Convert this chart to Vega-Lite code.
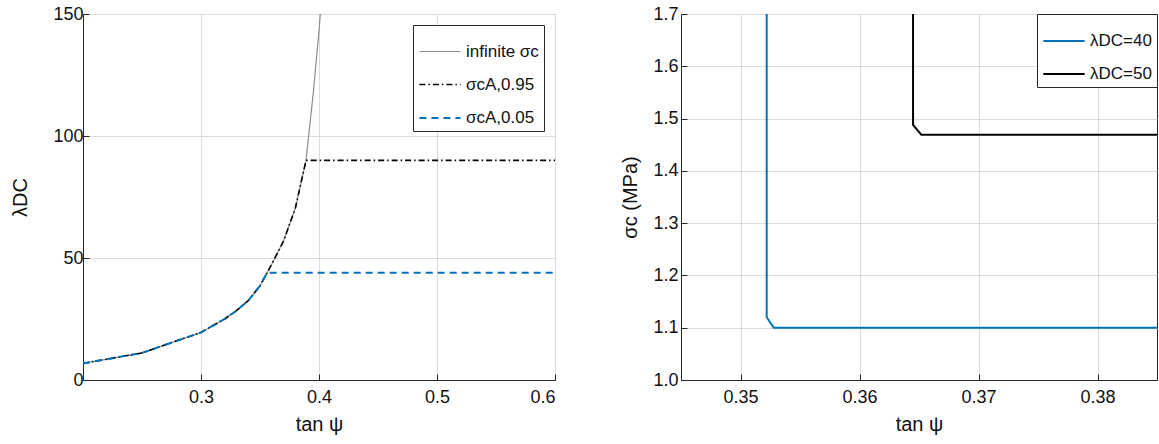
{
  "$schema": "https://vega.github.io/schema/vega-lite/v6.json",
  "padding": {"left": 10, "top": 4, "right": 0, "bottom": 0},
  "spacing": 64,
  "config": {
    "font": "Liberation Sans",
    "view": {"stroke": "#262626", "strokeWidth": 1},
    "axis": {
      "domainColor": "#262626", "tickColor": "#262626", "tickSize": -6,
      "gridColor": "#dcdcdc", "labelFontSize": 18, "labelColor": "#111",
      "titleFontSize": 20, "titleFontWeight": "normal", "titleColor": "#111",
      "labelPadding": 6
    },
    "axisX": {"labelPadding": 14, "titlePadding": 8},
    "legend": {
      "strokeColor": "#262626", "fillColor": "white", "padding": 5,
      "labelFontSize": 17, "labelColor": "#111", "symbolType": "stroke",
      "symbolSize": 1700, "symbolStrokeWidth": 2, "rowPadding": 3
    }
  },
  "datasets": {
    "left": [
      {"s": "infinite σc", "t": 0.20, "lam": 6.8, "i": 1},
      {"s": "infinite σc", "t": 0.25, "lam": 11.1, "i": 2},
      {"s": "infinite σc", "t": 0.30, "lam": 19.5, "i": 3},
      {"s": "infinite σc", "t": 0.32, "lam": 25.0, "i": 4},
      {"s": "infinite σc", "t": 0.33, "lam": 28.4, "i": 5},
      {"s": "infinite σc", "t": 0.34, "lam": 32.5, "i": 6},
      {"s": "infinite σc", "t": 0.35, "lam": 38.6, "i": 7},
      {"s": "infinite σc", "t": 0.36, "lam": 47.5, "i": 8},
      {"s": "infinite σc", "t": 0.37, "lam": 57.0, "i": 9},
      {"s": "infinite σc", "t": 0.38, "lam": 70.5, "i": 10},
      {"s": "infinite σc", "t": 0.389, "lam": 90.0, "i": 11},
      {"s": "infinite σc", "t": 0.395, "lam": 117.0, "i": 12},
      {"s": "infinite σc", "t": 0.40, "lam": 143.0, "i": 13},
      {"s": "infinite σc", "t": 0.405, "lam": 175.0, "i": 14},
      {"s": "σcA,0.95", "t": 0.20, "lam": 6.8, "i": 1},
      {"s": "σcA,0.95", "t": 0.25, "lam": 11.1, "i": 2},
      {"s": "σcA,0.95", "t": 0.30, "lam": 19.5, "i": 3},
      {"s": "σcA,0.95", "t": 0.32, "lam": 25.0, "i": 4},
      {"s": "σcA,0.95", "t": 0.33, "lam": 28.4, "i": 5},
      {"s": "σcA,0.95", "t": 0.34, "lam": 32.5, "i": 6},
      {"s": "σcA,0.95", "t": 0.35, "lam": 38.6, "i": 7},
      {"s": "σcA,0.95", "t": 0.36, "lam": 47.5, "i": 8},
      {"s": "σcA,0.95", "t": 0.37, "lam": 57.0, "i": 9},
      {"s": "σcA,0.95", "t": 0.38, "lam": 70.5, "i": 10},
      {"s": "σcA,0.95", "t": 0.389, "lam": 90.0, "i": 11},
      {"s": "σcA,0.95", "t": 0.60, "lam": 90.0, "i": 12},
      {"s": "σcA,0.05", "t": 0.20, "lam": 6.8, "i": 1},
      {"s": "σcA,0.05", "t": 0.25, "lam": 11.1, "i": 2},
      {"s": "σcA,0.05", "t": 0.30, "lam": 19.5, "i": 3},
      {"s": "σcA,0.05", "t": 0.32, "lam": 25.0, "i": 4},
      {"s": "σcA,0.05", "t": 0.33, "lam": 28.4, "i": 5},
      {"s": "σcA,0.05", "t": 0.34, "lam": 32.5, "i": 6},
      {"s": "σcA,0.05", "t": 0.35, "lam": 38.6, "i": 7},
      {"s": "σcA,0.05", "t": 0.356, "lam": 44.0, "i": 8},
      {"s": "σcA,0.05", "t": 0.60, "lam": 44.0, "i": 9}
    ],
    "right": [
      {"s": "λDC=40", "t": 0.3522, "sig": 1.75, "i": 1},
      {"s": "λDC=40", "t": 0.3522, "sig": 1.12, "i": 2},
      {"s": "λDC=40", "t": 0.3528, "sig": 1.10, "i": 3},
      {"s": "λDC=40", "t": 0.385, "sig": 1.10, "i": 4},
      {"s": "λDC=50", "t": 0.3645, "sig": 1.75, "i": 1},
      {"s": "λDC=50", "t": 0.3645, "sig": 1.488, "i": 2},
      {"s": "λDC=50", "t": 0.3652, "sig": 1.469, "i": 3},
      {"s": "λDC=50", "t": 0.385, "sig": 1.469, "i": 4}
    ]
  },
  "resolve": {"scale": {"color": "independent", "strokeDash": "independent", "strokeWidth": "independent"}, "legend": {"color": "independent"}},
  "hconcat": [
    {
      "width": 472, "height": 366,
      "data": {"name": "left"},
      "mark": {"type": "line", "clip": true},
      "encoding": {
        "x": {"field": "t", "type": "quantitative", "scale": {"domain": [0.2, 0.6], "nice": false, "zero": false},
              "axis": {"values": [0.2, 0.3, 0.4, 0.5, 0.6], "labelExpr": "datum.value == 0.2 ? '' : format(datum.value, '.1f')", "title": "tan ψ"}},
        "y": {"field": "lam", "type": "quantitative", "scale": {"domain": [0, 150], "nice": false},
              "axis": {"values": [0, 50, 100, 150], "title": "λDC", "titlePadding": 22}},
        "order": {"field": "i"},
        "color": {"field": "s", "type": "nominal", "title": null,
                  "scale": {"domain": ["infinite σc", "σcA,0.95", "σcA,0.05"], "range": ["#8c8c8c", "#000000", "#0072BD"]},
                  "legend": {"orient": "top-right", "offset": 11}},
        "strokeDash": {"field": "s", "type": "nominal", "title": null,
                  "scale": {"domain": ["infinite σc", "σcA,0.95", "σcA,0.05"], "range": [[1, 0], [6, 3, 1.5, 3], [7, 5]]}},
        "strokeWidth": {"field": "s", "type": "nominal", "title": null,
                  "scale": {"domain": ["infinite σc", "σcA,0.95", "σcA,0.05"], "range": [1.2, 2, 2]}}
      }
    },
    {
      "width": 476, "height": 366,
      "data": {"name": "right"},
      "mark": {"type": "line", "clip": true, "strokeWidth": 2},
      "encoding": {
        "x": {"field": "t", "type": "quantitative", "scale": {"domain": [0.345, 0.385], "nice": false, "zero": false},
              "axis": {"values": [0.35, 0.36, 0.37, 0.38], "format": ".2f", "title": "tan ψ"}},
        "y": {"field": "sig", "type": "quantitative", "scale": {"domain": [1.0, 1.7], "nice": false, "zero": false},
              "axis": {"values": [1.0, 1.1, 1.2, 1.3, 1.4, 1.5, 1.6, 1.7], "format": ".1f", "title": "σc (MPa)", "titlePadding": 12, "labelPadding": 9}},
        "order": {"field": "i"},
        "color": {"field": "s", "type": "nominal", "title": null,
                  "scale": {"domain": ["λDC=40", "λDC=50"], "range": ["#0072BD", "#000000"]},
                  "legend": {"orient": "top-right", "offset": 0}}
      }
    }
  ]
}
